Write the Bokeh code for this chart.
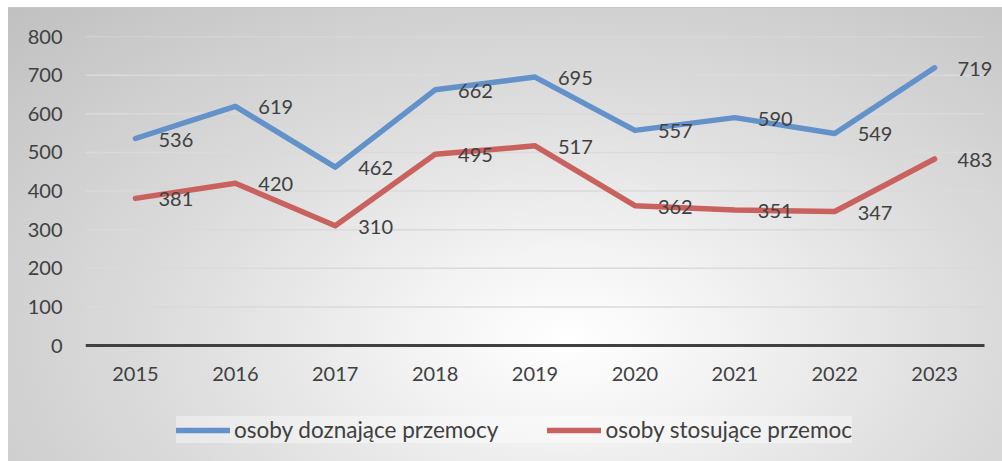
from bokeh.plotting import figure
from bokeh.models import (ColumnDataSource, Range1d, Legend, LegendItem,
                          LabelSet, FixedTicker)
from bokeh.core.properties import value
from bokeh.embed import file_html
from bokeh.resources import INLINE

years = ["2015", "2016", "2017", "2018", "2019", "2020", "2021", "2022", "2023"]
victims = [536, 619, 462, 662, 695, 557, 590, 549, 719]
perpetrators = [381, 420, 310, 495, 517, 362, 351, 347, 483]
y_ticks = [0, 100, 200, 300, 400, 500, 600, 700, 800]
series_names = ["osoby doznające przemocy", "osoby stosujące przemoc"]

FONT = "Lato"
TXT = "#404040"

xs = list(range(len(years)))          # category slots
x_lo, x_hi = xs[0] - 0.5, xs[-1] + 0.5  # extent of the category band

src = ColumnDataSource(dict(
    x=xs, year=years, v=victims, p=perpetrators,
    vl=[str(x) for x in victims],
    pl=[str(x) for x in perpetrators],
))

# frame runs to the figure's right/bottom edges so the data labels and legend are not clipped;
# the category axis is pinned at y = 0 and bounded to the category band
p = figure(width=1002, height=461,
           x_range=Range1d(x_lo, x_hi + 0.18),
           y_range=Range1d(-300, 800),
           output_backend="svg", toolbar_location=None,
           min_border_left=85, min_border_right=0,
           min_border_top=36, min_border_bottom=0)

p.background_fill_color = None
p.border_fill_color = None
p.outline_line_color = None
p.styles = {"background": (
    "linear-gradient(#c9c9c9, #c9c9c9) 8px 7px / 100% 1px no-repeat, "
    "radial-gradient(ellipse at 56% 72%, #ffffff 0%, #f4f4f4 18%, #dcdcdc 52%, #c0c0c0 100%) "
    "8px 7px / 100% 100% no-repeat, #ffffff")}

# horizontal gridlines across the category band
grid_src = ColumnDataSource(dict(y=y_ticks[1:]))
p.segment(x0=x_lo, x1=x_hi, y0="y", y1="y", source=grid_src,
          line_color="#dadada", line_width=1.5, level="underlay")

r1 = p.line("x", "v", source=src, line_color="#6391c9", line_width=5.5, line_cap="round", line_join="round")
r2 = p.line("x", "p", source=src, line_color="#c9625f", line_width=5.5, line_cap="round", line_join="round")

for col, ycol in (("vl", "v"), ("pl", "p")):
    labels = LabelSet(x="x", y=ycol, text=col, source=src,
                      x_offset=23, y_offset=-1,
                      text_baseline="middle", text_align="left",
                      text_font=value(FONT), text_font_size="20px", text_color=TXT)
    p.add_layout(labels)

ya = p.yaxis[0]
ya.ticker = FixedTicker(ticks=y_ticks)
ya.axis_line_color = None
ya.major_tick_line_color = None
ya.major_tick_out = 0
ya.major_tick_in = 0
ya.minor_tick_line_color = None
ya.major_label_standoff = 23
ya.major_label_text_font = FONT
ya.major_label_text_font_size = "20px"
ya.major_label_text_color = TXT

xa = p.xaxis[0]
xa.ticker = FixedTicker(ticks=xs)
xa.major_label_overrides = {i: y for i, y in zip(xs, years)}
xa.bounds = (x_lo, x_hi)
xa.fixed_location = 0
xa.axis_line_color = "#404040"
xa.axis_line_width = 3
xa.major_tick_line_color = None
xa.major_tick_out = 0
xa.major_tick_in = 0
xa.minor_tick_line_color = None
xa.major_label_standoff = 21
xa.major_label_text_font = FONT
xa.major_label_text_font_size = "20px"
xa.major_label_text_color = TXT

p.xgrid.grid_line_color = None
p.ygrid.grid_line_color = None

legend = Legend(items=[LegendItem(label=series_names[0], renderers=[r1]),
                       LegendItem(label=series_names[1], renderers=[r2])],
                orientation="horizontal", location=(91, 18))
legend.padding = 18
legend.spacing = 49
legend.glyph_width = 54
legend.glyph_height = 22
legend.label_standoff = 4
legend.margin = 0
legend.label_text_font = FONT
legend.label_text_font_size = "22.5px"
legend.label_text_color = TXT
legend.background_fill_color = "#ffffff"
legend.background_fill_alpha = 0.38
legend.border_line_color = None
p.add_layout(legend, "center")

open("out.html", "w").write(file_html(p, INLINE))
